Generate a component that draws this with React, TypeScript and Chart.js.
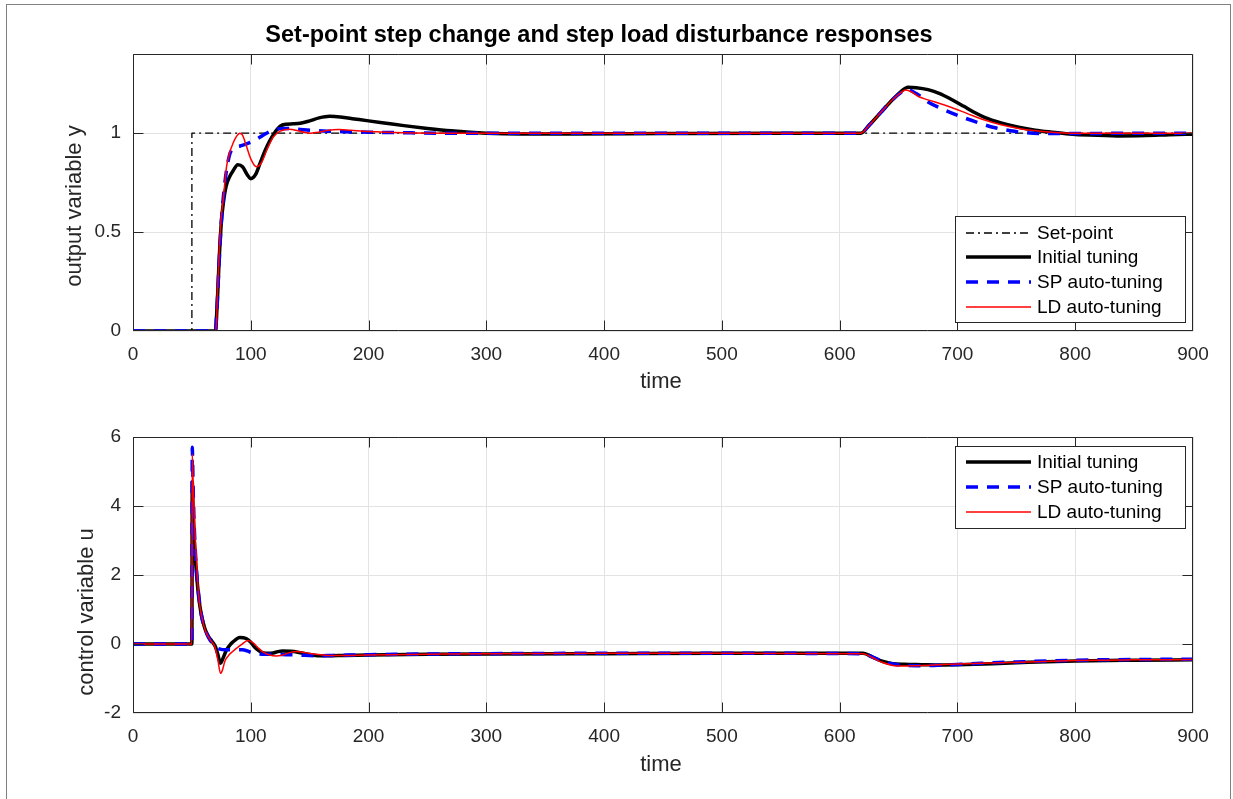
import React, { useEffect, useRef } from "react";
import { Chart, registerables } from "chart.js";

Chart.register(...registerables);

const FONT = "'Liberation Sans', Arial, Helvetica, sans-serif";
const AXIS_COLOR = "#262626";
const GRID_COLOR = "#e3e3e3";

// ---------- axis ticks ----------
const TIME_TICKS = [0, 100, 200, 300, 400, 500, 600, 700, 800, 900];
const OUT_TICKS = [0, 0.5, 1];
const OUT_TICK_LABELS = ["0", "0.5", "1"];
const CTRL_TICKS = [-2, 0, 2, 4, 6];
const CTRL_TICK_LABELS = ["-2", "0", "2", "4", "6"];

// ---------- output variable y ----------
const SETPOINT_T = [0, 50, 50, 900];
const SETPOINT_Y = [0, 0, 1, 1];

const Y_INIT_T = [0, 70, 71, 72, 73, 75, 77, 79, 82, 85, 89, 93, 97, 100, 104, 108, 112, 116, 120, 125, 130, 136, 142, 150, 158, 167, 176, 188, 200, 215, 230, 250, 270, 300, 330, 370, 450, 550, 618, 625, 635, 645, 652, 658, 665, 675, 685, 695, 705, 715, 723, 737, 752, 766, 780, 795, 812, 836, 860, 880, 900];
const Y_INIT = [0, 0, 0.08, 0.2, 0.34, 0.55, 0.66, 0.73, 0.78, 0.81, 0.84, 0.83, 0.79, 0.77, 0.79, 0.85, 0.91, 0.96, 1.0, 1.035, 1.045, 1.047, 1.05, 1.062, 1.077, 1.085, 1.082, 1.072, 1.062, 1.05, 1.038, 1.024, 1.012, 1.0, 0.996, 0.996, 0.998, 1.0, 1.0, 1.04, 1.105, 1.17, 1.21, 1.232, 1.23, 1.22, 1.2, 1.17, 1.137, 1.103, 1.08, 1.052, 1.03, 1.015, 1.005, 0.996, 0.99, 0.986, 0.988, 0.992, 0.995];

const Y_SP_T = [0, 70, 71, 72, 73, 75, 78, 82, 86, 91, 96, 102, 108, 113, 118, 124, 130, 140, 150, 165, 180, 200, 230, 260, 300, 450, 618, 625, 635, 645, 652, 657, 665, 675, 688, 701, 715, 732, 745, 757, 775, 800, 850, 900];
const Y_SP = [0, 0, 0.08, 0.2, 0.33, 0.55, 0.75, 0.89, 0.925, 0.935, 0.945, 0.96, 0.98, 0.998, 1.012, 1.022, 1.024, 1.02, 1.015, 1.01, 1.007, 1.005, 1.002, 1.0, 1.0, 1.0, 1.0, 1.04, 1.105, 1.17, 1.205, 1.22, 1.2, 1.158, 1.12, 1.088, 1.058, 1.027, 1.012, 1.003, 0.998, 0.998, 1.0, 1.0];

const Y_LD_T = [0, 70, 71, 71.5, 72.5, 73.7, 75, 76.5, 78, 79.4, 82, 85, 88, 90.7, 93, 96, 100, 104.8, 109, 114, 119, 125, 133, 140, 146, 151, 158, 166, 175, 185, 200, 230, 270, 300, 450, 618, 625, 635, 645, 652, 656, 662, 667, 675, 685, 695, 708, 723, 737, 752, 765, 780, 800, 850, 900];
const Y_LD = [0, 0, 0.06, 0.16, 0.3, 0.46, 0.58, 0.66, 0.75, 0.83, 0.9, 0.95, 0.985, 1.0, 0.99, 0.94, 0.87, 0.83, 0.85, 0.92, 0.98, 1.01, 1.02, 1.012, 1.003, 1.0, 1.005, 1.015, 1.018, 1.014, 1.008, 1.002, 1.0, 1.0, 1.0, 1.0, 1.04, 1.105, 1.17, 1.205, 1.218, 1.205, 1.185, 1.168, 1.15, 1.13, 1.1, 1.066, 1.042, 1.024, 1.013, 1.005, 1.0, 1.0, 1.0];

// ---------- control variable u ----------
const U_INIT_T = [0, 50, 50.3, 51, 52, 54, 56, 58, 61, 64, 67, 70, 72, 74.3, 76, 79.4, 83, 87, 90.7, 96, 100, 103, 107, 110, 115, 119, 123, 127, 133, 139, 147, 155, 165, 180, 200, 250, 300, 400, 500, 620, 628, 636, 645, 655, 670, 685, 700, 730, 760, 800, 850, 900];
const U_INIT = [0, 0, 4.7, 3.9, 3.0, 2.0, 1.3, 0.85, 0.45, 0.22, 0.08, -0.08, -0.3, -0.56, -0.45, -0.17, 0.0, 0.12, 0.19, 0.16, 0.05, -0.08, -0.2, -0.25, -0.27, -0.26, -0.22, -0.2, -0.21, -0.23, -0.29, -0.33, -0.34, -0.33, -0.32, -0.3, -0.29, -0.28, -0.27, -0.27, -0.38, -0.5, -0.57, -0.59, -0.6, -0.61, -0.6, -0.57, -0.53, -0.49, -0.47, -0.46];

const U_SP_T = [0, 50, 50.3, 51, 52, 54, 56, 58, 61, 64, 68, 71, 74, 78, 85, 93, 97, 100, 105, 112, 120, 130, 140, 155, 170, 200, 250, 300, 400, 500, 620, 628, 636, 645, 655, 665, 680, 695, 720, 750, 800, 850, 900];
const U_SP = [0, 0, 5.7, 4.6, 3.4, 2.1, 1.35, 0.85, 0.45, 0.2, 0.0, -0.1, -0.15, -0.17, -0.17, -0.17, -0.2, -0.24, -0.28, -0.3, -0.3, -0.31, -0.32, -0.34, -0.33, -0.31, -0.29, -0.28, -0.27, -0.27, -0.28, -0.38, -0.5, -0.58, -0.62, -0.63, -0.62, -0.6, -0.56, -0.52, -0.47, -0.45, -0.44];

const U_LD_T = [0, 50, 50.3, 51, 52, 53, 54, 55.5, 57, 60, 62.5, 66, 69.5, 72, 74.3, 76, 78, 82, 87, 92, 97.7, 102, 106, 110, 116, 121.8, 127, 133, 139, 146, 155.6, 165, 180, 200, 250, 300, 400, 500, 620, 628, 636, 645, 652, 665, 680, 700, 730, 760, 800, 850, 900];
const U_LD = [0, 0, 5.5, 4.75, 3.8, 3.0, 2.35, 1.5, 1.05, 0.55, 0.3, 0.1, -0.08, -0.45, -0.85, -0.75, -0.5, -0.3, -0.15, -0.02, 0.1, 0.03, -0.1, -0.22, -0.32, -0.35, -0.32, -0.25, -0.22, -0.25, -0.3, -0.33, -0.33, -0.32, -0.3, -0.28, -0.27, -0.27, -0.28, -0.4, -0.53, -0.62, -0.64, -0.63, -0.61, -0.58, -0.55, -0.52, -0.48, -0.46, -0.45];

type Pt = { x: number; y: number };
const pts = (t: number[], v: number[]): Pt[] => t.map((x, i) => ({ x, y: v[i] }));

// Series styles
const STYLE_SETPOINT = { borderColor: "#000000", borderWidth: 1.3, borderDash: [8, 4, 2, 4], order: 3 };
const STYLE_INIT = { borderColor: "#000000", borderWidth: 3.5, order: 2 };
const STYLE_SP = { borderColor: "#0000ff", borderWidth: 3.5, borderDash: [12, 9], order: 1 };
const STYLE_LD = { borderColor: "#ff0000", borderWidth: 1.5, order: 0 };

function line(label: string, data: Pt[], style: any, smooth = true) {
  return {
    label,
    data,
    ...style,
    pointRadius: 0,
    fill: false,
    tension: 0,
    borderJoinStyle: "round",
    cubicInterpolationMode: smooth ? "monotone" : "default",
  };
}

// Draws the box, inward ticks, titles and the boxed legend
const decor = {
  id: "decor",
  afterDatasetsDraw(chart: any) {
    const { ctx, chartArea: a } = chart;
    const xs = chart.scales.x;
    const ys = chart.scales.y;
    const L = Math.round(a.left) + 0.5;
    const R = Math.round(a.right) - 0.5;
    const T = Math.round(a.top) + 0.5;
    const B = Math.round(a.bottom) - 0.5;
    const tl = 10;
    ctx.save();
    ctx.strokeStyle = AXIS_COLOR;
    ctx.lineWidth = 1;
    ctx.setLineDash([]);
    ctx.beginPath();
    ctx.rect(L, T, R - L, B - T);
    for (const t of xs.ticks) {
      const px = Math.min(R, Math.max(L, Math.round(xs.getPixelForValue(t.value)) + 0.5));
      ctx.moveTo(px, B);
      ctx.lineTo(px, B - tl);
      ctx.moveTo(px, T);
      ctx.lineTo(px, T + tl);
    }
    for (const t of ys.ticks) {
      const py = Math.min(B, Math.max(T, Math.round(ys.getPixelForValue(t.value)) + 0.5));
      ctx.moveTo(L, py);
      ctx.lineTo(L + tl, py);
      ctx.moveTo(R, py);
      ctx.lineTo(R - tl, py);
    }
    ctx.stroke();
    ctx.restore();
  },
  afterDraw(chart: any, _args: any, opts: any) {
    const { ctx, chartArea: a } = chart;
    ctx.save();
    ctx.fillStyle = "#000";
    ctx.textAlign = "center";
    ctx.textBaseline = "middle";
    if (opts.title) {
      ctx.font = `bold 23.5px ${FONT}`;
      ctx.fillText(opts.title, opts.titleX, opts.titleY);
    }
    ctx.fillStyle = AXIS_COLOR;
    ctx.font = `22px ${FONT}`;
    ctx.fillText(opts.xTitle, opts.xTitleX, a.bottom + opts.xTitleDy);
    ctx.save();
    ctx.translate(opts.yTitleX, opts.yTitleY);
    ctx.rotate(-Math.PI / 2);
    ctx.fillText(opts.yTitle, 0, 0);
    ctx.restore();

    const lg = opts.legend;
    ctx.fillStyle = "#ffffff";
    ctx.fillRect(lg.x, lg.y, lg.w, lg.h);
    ctx.strokeStyle = AXIS_COLOR;
    ctx.lineWidth = 1;
    ctx.strokeRect(lg.x + 0.5, lg.y + 0.5, lg.w, lg.h);
    const sets = chart.data.datasets;
    for (let i = 0; i < sets.length; i++) {
      const ds = sets[i];
      const y = lg.rows[i];
      ctx.beginPath();
      ctx.setLineDash(ds.borderDash || []);
      ctx.strokeStyle = ds.borderColor;
      ctx.lineWidth = ds.borderWidth;
      ctx.moveTo(lg.lineX0, y);
      ctx.lineTo(lg.lineX1, y);
      ctx.stroke();
      ctx.setLineDash([]);
      ctx.fillStyle = "#000";
      ctx.font = `19px ${FONT}`;
      ctx.textAlign = "left";
      ctx.textBaseline = "middle";
      ctx.fillText(ds.label, lg.textX, y + 1);
    }
    ctx.restore();
  },
};

function makeConfig(
  datasets: any[],
  yMin: number,
  yMax: number,
  yTicks: number[],
  yLabels: string[],
  padding: any,
  decorOpts: any
): any {
  return {
    type: "line",
    data: { datasets },
    plugins: [decor],
    options: {
      animation: false,
      responsive: false,
      devicePixelRatio: 1,
      events: [],
      layout: { padding },
      plugins: {
        legend: { display: false },
        tooltip: { enabled: false },
        title: { display: false },
        decor: decorOpts,
      },
      scales: {
        x: {
          type: "linear",
          min: 0,
          max: 900,
          afterBuildTicks: (s: any) => {
            s.ticks = TIME_TICKS.map((v) => ({ value: v }));
          },
          afterFit: (s: any) => {
            s.height = 40;
          },
          ticks: {
            autoSkip: false,
            maxRotation: 0,
            padding: 12,
            color: AXIS_COLOR,
            font: { family: FONT, size: 19 },
            callback: (v: number) => String(v),
          },
          grid: { color: GRID_COLOR, lineWidth: 1, drawTicks: false },
          border: { display: false },
        },
        y: {
          type: "linear",
          min: yMin,
          max: yMax,
          afterBuildTicks: (s: any) => {
            s.ticks = yTicks.map((v) => ({ value: v }));
          },
          afterFit: (s: any) => {
            s.width = 60;
          },
          ticks: {
            autoSkip: false,
            padding: 12,
            color: AXIS_COLOR,
            font: { family: FONT, size: 19 },
            callback: (v: number) => {
              const i = yTicks.indexOf(v);
              return i >= 0 ? yLabels[i] : "";
            },
          },
          grid: { color: GRID_COLOR, lineWidth: 1, drawTicks: false },
          border: { display: false },
        },
      },
    },
  };
}

export default function App() {
  const topRef = useRef<HTMLCanvasElement>(null);
  const botRef = useRef<HTMLCanvasElement>(null);

  useEffect(() => {
    const topChart = new Chart(
      topRef.current as HTMLCanvasElement,
      makeConfig(
        [
          line("Set-point", pts(SETPOINT_T, SETPOINT_Y), STYLE_SETPOINT, false),
          line("Initial tuning", pts(Y_INIT_T, Y_INIT), STYLE_INIT),
          line("SP auto-tuning", pts(Y_SP_T, Y_SP), STYLE_SP),
          line("LD auto-tuning", pts(Y_LD_T, Y_LD), STYLE_LD),
        ],
        0,
        1.4,
        OUT_TICKS,
        OUT_TICK_LABELS,
        { top: 54, left: 73, right: 40, bottom: 29 },
        {
          title: "Set-point step change and step load disturbance responses",
          titleX: 599,
          titleY: 36,
          xTitle: "time",
          xTitleX: 661,
          xTitleDy: 51,
          yTitle: "output variable y",
          yTitleX: 75,
          yTitleY: 206,
          legend: { x: 955, y: 216, w: 230, h: 106, rows: [233, 257, 282, 307], lineX0: 966, lineX1: 1031, textX: 1037 },
        }
      )
    );
    const botChart = new Chart(
      botRef.current as HTMLCanvasElement,
      makeConfig(
        [
          line("Initial tuning", pts(U_INIT_T, U_INIT), STYLE_INIT),
          line("SP auto-tuning", pts(U_SP_T, U_SP), STYLE_SP),
          line("LD auto-tuning", pts(U_LD_T, U_LD), STYLE_LD),
        ],
        -2,
        6,
        CTRL_TICKS,
        CTRL_TICK_LABELS,
        { top: 37, left: 73, right: 40, bottom: 46 },
        {
          xTitle: "time",
          xTitleX: 661,
          xTitleDy: 52,
          yTitle: "control variable u",
          yTitleX: 87,
          yTitleY: 212,
          legend: { x: 955, y: 46, w: 230, h: 82, rows: [62, 87, 112], lineX0: 966, lineX1: 1031, textX: 1037 },
        }
      )
    );
    return () => {
      topChart.destroy();
      botChart.destroy();
    };
  }, []);

  return (
    <div
      style={{
        position: "fixed",
        left: 0,
        top: 0,
        width: 1233,
        height: 799,
        overflow: "hidden",
        background: "#ffffff",
      }}
    >
      <div
        style={{
          position: "absolute",
          left: 6,
          top: 4,
          width: 1225,
          height: 820,
          border: "1px solid #808080",
          boxSizing: "border-box",
        }}
      />
      <canvas ref={topRef} width={1233} height={400} style={{ position: "absolute", left: 0, top: 0 }} />
      <canvas ref={botRef} width={1233} height={399} style={{ position: "absolute", left: 0, top: 400 }} />
    </div>
  );
}
